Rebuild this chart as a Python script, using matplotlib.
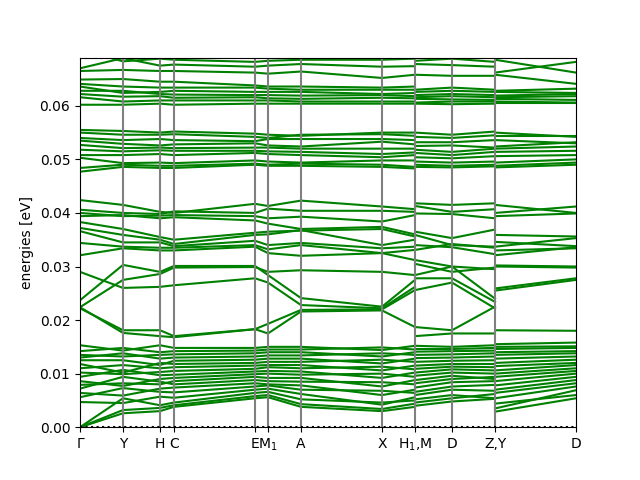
# Phonon band structure along G-Y-H-C-E-M1-A-X|M-D-Z|Y-D
# Values (meV at the path nodes), drawn in eV.

import numpy as np
import matplotlib
matplotlib.use("Agg")
import matplotlib.pyplot as plt

# path positions of the high-symmetry points
k_seg1 = [0.0, 0.43, 0.80, 0.94, 1.75, 1.88, 2.21, 3.02, 3.35]   # G Y H C E M1 A X H1
k_seg2 = [3.35, 3.72, 4.15]                                       # M D Z
k_seg3 = [4.15, 4.96]                                             # Y D

tick_pos = [0.0, 0.43, 0.80, 0.94, 1.75, 1.88, 2.21, 3.02, 3.35, 3.72, 4.15, 4.96]
tick_labels = ["Γ", "Y", "H", "C", "E", "M$_1$", "A", "X", "H$_1$,M", "D", "Z,Y", "D"]

# low-lying branches (meV)
low_seg1 = [
    [0.0, 2.6, 3.0, 3.8, 5.4, 5.6, 3.8, 3.0, 3.8],
    [0.0, 3.2, 3.6, 4.1, 5.8, 6.0, 4.3, 3.4, 4.4],
    [0.0, 5.4, 4.1, 4.6, 6.4, 6.6, 5.2, 4.6, 5.0],
    [4.7, 4.5, 5.7, 5.5, 7.0, 7.2, 6.2, 4.2, 5.6],
    [5.6, 7.3, 6.6, 6.5, 7.6, 7.8, 7.0, 6.8, 6.4],
    [6.4, 5.9, 7.2, 7.4, 8.2, 8.0, 7.8, 6.0, 7.0],
    [7.2, 9.4, 8.5, 8.0, 8.8, 8.6, 8.5, 8.4, 8.0],
    [7.9, 8.2, 8.0, 8.6, 9.4, 9.2, 9.2, 7.6, 8.8],
    [8.6, 7.7, 9.0, 9.2, 9.9, 10.0, 9.8, 10.0, 9.4],
    [9.4, 10.7, 9.7, 9.8, 10.4, 10.5, 10.4, 9.2, 10.2],
    [10.2, 9.9, 10.3, 10.5, 10.9, 11.2, 11.0, 11.3, 10.8],
    [11.0, 11.6, 11.0, 11.2, 11.5, 11.6, 11.6, 10.6, 11.5],
    [11.8, 10.2, 12.0, 11.8, 12.0, 12.2, 12.2, 12.6, 12.2],
    [12.5, 12.5, 11.6, 12.4, 12.6, 12.8, 12.8, 11.9, 12.8],
    [13.0, 13.8, 12.8, 13.0, 13.2, 13.4, 13.4, 13.8, 13.5],
    [13.5, 13.2, 13.5, 13.6, 13.8, 14.0, 14.0, 13.2, 14.0],
    [14.2, 14.8, 14.0, 14.2, 14.3, 14.5, 14.5, 14.9, 14.5],
    [15.3, 14.3, 15.3, 14.8, 14.8, 15.0, 15.0, 14.4, 15.2],
]
low_seg2 = [
    [4.0, 4.8, 5.3], [4.6, 5.4, 6.2], [5.2, 6.0, 5.4], [6.0, 7.0, 6.8],
    [6.6, 7.6, 7.9], [7.4, 8.4, 8.6], [8.2, 9.0, 9.4], [8.8, 9.6, 9.0],
    [9.6, 10.2, 10.0], [10.2, 10.8, 10.6], [10.9, 11.3, 11.2], [11.5, 11.8, 11.8],
    [12.2, 12.4, 12.5], [12.9, 13.0, 13.2], [13.5, 13.6, 13.8], [14.1, 14.2, 14.3],
    [14.6, 14.6, 14.8], [15.2, 15.0, 15.3],
]
low_seg3 = [
    [2.9, 5.4], [3.5, 6.9], [4.4, 6.0], [5.4, 7.6], [6.4, 8.2], [7.0, 8.8],
    [7.8, 9.4], [8.6, 10.0], [9.4, 10.5], [10.0, 11.0], [10.6, 11.6], [11.4, 12.0],
    [12.0, 12.6], [12.8, 13.2], [13.5, 13.8], [14.0, 14.2], [14.6, 14.8], [15.0, 15.1],
]

# middle branches (meV)
mid_seg1 = [
    [42.4, 41.5, 40.2, 40.0, 41.7, 41.3, 42.3, 41.2, 40.7],
    [40.6, 40.0, 39.8, 40.3, 40.0, 40.8, 40.4, 40.4, 40.2],
    [40.0, 39.4, 39.5, 39.6, 39.4, 39.0, 39.3, 38.4, 39.6],
    [39.4, 39.6, 39.0, 39.2, 38.6, 38.0, 37.0, 37.4, 36.0],
    [38.3, 37.0, 35.5, 35.0, 36.3, 36.5, 36.7, 37.0, 35.6],
    [37.2, 35.9, 35.0, 34.2, 35.9, 36.0, 36.8, 34.0, 35.0],
    [36.6, 34.5, 34.5, 33.8, 34.8, 34.0, 34.4, 33.4, 33.7],
    [34.4, 33.7, 33.5, 33.5, 34.0, 33.2, 34.0, 32.5, 33.1],
    [32.1, 33.4, 33.0, 33.0, 33.7, 32.5, 32.0, 32.5, 31.2],
    [23.7, 30.3, 29.0, 30.1, 30.1, 28.4, 24.1, 22.5, 27.5],
    [22.4, 27.5, 28.6, 29.8, 29.9, 29.0, 29.3, 29.0, 28.4],
    [29.0, 26.0, 26.2, 26.5, 27.8, 27.0, 22.8, 22.2, 26.2],
    [22.2, 18.1, 18.1, 17.0, 18.3, 19.3, 21.9, 22.0, 25.6],
    [22.4, 17.6, 17.0, 16.8, 18.3, 17.5, 21.6, 21.8, 18.7],
]
mid_seg2 = [
    [41.8, 41.5, 41.8], [41.3, 40.2, 40.7], [39.9, 39.8, 39.0], [36.5, 35.3, 36.9],
    [35.9, 34.0, 33.7], [34.0, 33.6, 32.3], [33.1, 34.2, 33.5], [31.2, 30.0, 29.5],
    [28.4, 30.0, 24.0], [27.8, 27.8, 23.4], [30.5, 29.0, 29.8], [25.6, 27.0, 22.2],
    [18.7, 18.1, 22.5], [17.0, 17.5, 17.5],
]
mid_seg3 = [
    [41.5, 40.0], [40.0, 41.2], [39.4, 39.9], [35.9, 35.6], [34.6, 33.8],
    [33.7, 35.3], [32.1, 33.6], [30.0, 29.8], [25.9, 27.8], [30.2, 30.0],
    [33.0, 33.4], [25.5, 27.5], [18.1, 18.0], [15.5, 15.8],
]

# upper branches (meV)
up_seg1 = [
    [55.5, 55.3, 55.0, 55.2, 54.8, 54.6, 54.4, 55.0, 55.0],
    [55.0, 54.6, 54.6, 54.7, 54.2, 54.0, 54.6, 54.7, 54.4],
    [54.0, 53.6, 53.8, 53.6, 53.4, 53.8, 53.8, 53.8, 53.6],
    [53.5, 52.9, 52.6, 52.8, 53.0, 52.6, 52.4, 53.3, 52.8],
    [52.7, 52.1, 52.2, 52.1, 52.2, 52.2, 52.0, 52.0, 52.0],
    [51.8, 51.5, 51.7, 51.6, 51.6, 51.5, 51.4, 51.0, 51.3],
    [50.8, 50.8, 51.0, 50.8, 51.2, 51.0, 50.8, 50.4, 50.8],
    [50.3, 49.3, 49.4, 49.3, 49.8, 49.6, 49.4, 49.8, 49.8],
    [48.4, 49.0, 48.8, 48.8, 49.2, 49.0, 49.2, 49.0, 48.6],
    [47.7, 48.6, 48.4, 48.4, 49.0, 48.8, 48.8, 48.6, 48.3],
]
up_seg2 = [
    [55.0, 54.6, 55.2], [54.2, 54.0, 54.5], [53.2, 53.2, 53.6], [52.5, 52.6, 52.2],
    [51.8, 51.4, 52.0], [51.2, 50.8, 51.4], [50.4, 50.2, 50.6], [49.6, 49.4, 49.6],
    [49.0, 48.8, 49.0], [48.6, 48.5, 48.7],
]
up_seg3 = [
    [55.0, 54.2], [54.4, 54.4], [53.6, 53.0], [52.4, 53.2], [52.0, 52.4],
    [51.4, 51.6], [50.6, 50.8], [49.4, 50.0], [48.8, 49.4], [48.5, 49.0],
]

# top branches (meV)
top_seg1 = [
    [70.5, 68.3, 68.8, 68.6, 68.2, 68.4, 68.6, 68.6, 68.8],
    [67.0, 68.9, 67.5, 67.7, 67.3, 67.5, 67.8, 67.3, 67.4],
    [66.5, 66.7, 66.5, 66.5, 66.2, 66.0, 66.4, 65.2, 65.8],
    [64.9, 65.0, 64.5, 64.5, 63.8, 63.6, 63.6, 63.4, 63.6],
    [64.1, 63.6, 63.4, 63.4, 63.4, 63.2, 63.0, 63.0, 63.0],
    [63.6, 62.4, 62.6, 62.8, 62.6, 62.6, 62.6, 62.2, 62.4],
    [62.8, 62.8, 62.2, 62.1, 62.0, 62.0, 61.9, 62.0, 61.8],
    [62.2, 61.7, 61.8, 61.5, 61.6, 61.4, 61.3, 61.5, 61.4],
    [61.6, 60.8, 61.0, 61.0, 61.0, 61.0, 60.8, 60.8, 60.8],
    [60.2, 60.2, 60.4, 60.2, 60.4, 60.4, 60.4, 60.4, 60.4],
]
top_seg2 = [
    [68.4, 68.8, 68.2], [67.8, 67.6, 67.3], [65.8, 65.6, 65.6], [63.0, 63.4, 63.0],
    [62.6, 62.8, 62.6], [62.0, 62.2, 62.0], [61.6, 61.8, 61.6], [61.3, 61.2, 61.1],
    [60.6, 60.8, 60.8], [60.4, 60.3, 60.4],
]
top_seg3 = [
    [68.6, 66.2], [66.2, 68.2], [65.8, 64.1], [62.8, 63.2], [62.6, 62.4],
    [61.9, 62.2], [61.6, 61.8], [61.3, 61.1], [60.8, 60.6], [60.6, 60.6],
]


def draw_segment(ax, kpts, bands):
    for b in bands:
        ax.plot(kpts, np.array(b) / 1000.0, color="g")


def main():
    fig, ax = plt.subplots(figsize=(6.4, 4.8), dpi=100)

    draw_segment(ax, k_seg1, low_seg1 + mid_seg1 + up_seg1 + top_seg1)
    draw_segment(ax, k_seg2, low_seg2 + mid_seg2 + up_seg2 + top_seg2)
    draw_segment(ax, k_seg3, low_seg3 + mid_seg3 + up_seg3 + top_seg3)

    for x in tick_pos[1:-1]:
        ax.axvline(x, color="gray")
    ax.axhline(0.0, color="k", linestyle=":")

    ax.set_xticks(tick_pos)
    ax.set_xticklabels(tick_labels)
    ax.set_xlim(tick_pos[0], tick_pos[-1])
    ax.set_ylim(0.0, 0.069)
    ax.set_ylabel("energies [eV]")

    fig.savefig("out.png", dpi=100)
    plt.close(fig)


if __name__ == "__main__":
    main()
